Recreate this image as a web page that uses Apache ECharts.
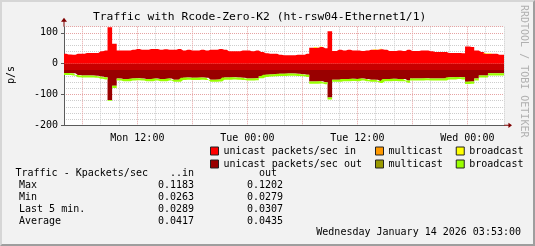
<!DOCTYPE html>
<html>
<head>
<meta charset="utf-8">
<script src="https://cdn.jsdelivr.net/npm/echarts@6/dist/echarts.min.js"></script>
<style>
html,body{margin:0;padding:0;background:#f2f2f2;}
#chart{position:absolute;left:0;top:0;width:535px;height:246px;}
#frame{position:absolute;left:0;top:0;width:535px;height:246px;box-sizing:border-box;pointer-events:none;
  border-top:2px solid #d6d6d6;border-left:2px solid #d6d6d6;border-right:2px solid #9e9e9e;border-bottom:2px solid #9e9e9e;}
</style>
</head>
<body>
<div id="chart"></div>
<div id="frame"></div>
<script>
// ---------------- data (packets/sec, 30-minute samples from Mon 04:00 to Wed 04:00) ----------------
const titleText = 'Traffic with Rcode-Zero-K2 (ht-rsw04-Ethernet1/1)';
const startTimeUTC = Date.UTC(2026, 0, 12, 4, 0);   // Mon 12 Jan 2026 04:00
const stepMinutes = 30;

const unicastIn = [
  32,30,29,32,32,35,35,35,40,43,118,65,43,43,43,45,48,45,45,48,48,45,47,45,
  45,48,43,45,43,43,45,43,45,45,48,45,40,40,40,43,43,40,43,38,34,32,32,29,
  27,27,27,29,29,32,52,52,54,50,105,41,45,43,45,43,43,41,43,45,45,47,45,41,
  41,43,41,45,41,41,43,43,40,38,38,38,35,35,35,34,56,54,43,38,32,32,32,29,29];
const multicastIn = [
  0,0,0,0,0,0,0,0,0,0,0,0,0,0,0,0,0,0,0,0,0,0,0,0,
  0,0,0,0,0,0,0,0,0,0,0,0,0,0,0,0,0,0,0,0,0,0,0,0,
  0,0,0,0,0,0,0,0,0,0,0,0,0,0,0,0,0,0,0,0,0,0,0,0,
  0,0,0,0,0,0,0,0,0,0,0,0,0,0,0,0,0,0,0,0,0,0,0,0,0];
const broadcastIn = [
  0,0,0,0,0,0,0,0,0,0,0,0,0,0,0,0,0,0,0,0,0,0,0,0,
  0,0,0,0,0,0,0,0,0,0,0,0,0,0,0,0,0,0,0,0,0,0,0,0,
  0,0,0,0,0,0,0,2,2,0,0,0,0,0,0,0,0,0,0,0,1.5,1.5,0,0,
  0,0,0,0,0,0,0,0,0,0,0,0,0,0,0,0,0,0,0,0,1.5,1.5,0,0,0];
const unicastOut = [
  30,30,31,37,38,38,38,39,42,44,118,72,48,50,50,48,47,48,50,50,48,50,50,48,
  52,52,46,45,46,46,45,46,52,52,51,45,45,44,45,46,48,48,47,40,36,35,34,33,
  33,32,32,33,34,36,58,58,57,60,110,52,52,50,50,49,50,48,50,52,52,56,50,50,
  49,50,50,55,48,48,48,47,48,48,48,48,44,44,43,44,59,58,48,38,38,31,31,31,31];
const multicastOut = [
  0,0,0,0,0,0,0,0,0,0,0,0,0,0,0,0,0,0,0,0,0,0,0,0,
  0,0,0,0,0,0,0,0,0,0,0,0,0,0,0,0,0,0,0,0,0,0,0,0,
  0,0,0,0,0,0,0,0,0,0,0,0,0,0,0,0,0,0,0,0,0,0,0,0,
  0,0,0,0,0,0,0,0,0,0,0,0,0,0,0,0,0,0,0,0,0,0,0,0,0];
const broadcastOut = [
  7,7,7,7,7,7,7,7,7,7,2,7,7,7,7,7,7,7,7,7,7,7,7,7,
  7,7,7,7,7,7,7,7,7,7,7,7,7,7,7,7,7,7,7,7,7,7,7,7,
  7,7,7,7,7,7,7,7,7,7,6,7,7,7,7,7,7,7,7,7,7,7,7,7,
  7,7,7,7,7,7,7,7,7,7,7,7,7,7,7,7,7,7,7,7,7,7,7,7,7];

const xTickLabels = ['Mon 12:00', 'Tue 00:00', 'Tue 12:00', 'Wed 00:00'];
const yTickLabels = [-200, -100, 0, 100];
const yMin = -200, yMax = 120;
const outBandLimit = -18;

const statLabels = ['Max', 'Min', 'Last 5 min.', 'Average'];
const statIn  = ['0.1183', '0.0263', '0.0289', '0.0417'];
const statOut = ['0.1202', '0.0279', '0.0307', '0.0435'];
const timestampText = 'Wednesday January 14 2026 03:53:00';

// ---------------- build ----------------
const DAYS = ['Sun','Mon','Tue','Wed','Thu','Fri','Sat'];
const pad2 = n => (n < 10 ? '0' : '') + n;
const categories = unicastIn.map((_, i) => {
  const d = new Date(startTimeUTC + i * stepMinutes * 60000);
  return DAYS[d.getUTCDay()] + ' ' + pad2(d.getUTCHours()) + ':' + pad2(d.getUTCMinutes());
});
const hourOf = c => parseInt(c.slice(4, 6), 10);
const minOf = c => parseInt(c.slice(7, 9), 10);
const isMajor = (i, c) => minOf(c) === 0 && hourOf(c) % 6 === 0;
const isMinor = (i, c) => minOf(c) === 0 && hourOf(c) % 2 === 0 && hourOf(c) % 6 !== 0;
const isLabel = (i, c) => xTickLabels.indexOf(c) >= 0;

const FONT = '"DejaVu Sans Mono", monospace';
const arrowPath = 'path://M3,0L6,4L3.5,4L3.5,9L2.5,9L2.5,4L0,4Z';
const AXIS_COLOR = '#5a5a5a';
const MGRID = '#e6a3a3';
const GRID = '#cdcdcd';

const C = {
  uin: '#ff0000', min: '#ff9900', bin: '#ffff00',
  uout: '#990000', uoutBand: '#c80000', mout: '#999900', bout: '#99ff00'
};

function areaSeries(name, data, color, stack) {
  return {
    name, type: 'line', data, stack, step: 'middle', symbol: 'none', showSymbol: false,
    lineStyle: { width: 0, opacity: 0 }, areaStyle: { opacity: 1, color }, itemStyle: { color },
    silent: true, z: 3, xAxisIndex: 0, yAxisIndex: 0, animation: false
  };
}
const neg = a => a.map(v => -v);
// zero samples are left undrawn so that zero-height areas leave no hairline
const skipZero = a => a.map(v => (v === 0 ? null : v));

const series = [
  areaSeries('unicast packets/sec in', unicastIn, C.uin, 'in'),
  areaSeries('multicast in', skipZero(multicastIn), C.min, 'in'),
  areaSeries('broadcast in', skipZero(broadcastIn), C.bin, 'in'),
  areaSeries('unicast packets/sec out', neg(unicastOut), C.uout, 'out'),
  areaSeries('multicast out', skipZero(neg(multicastOut)), C.mout, 'out'),
  areaSeries('broadcast out', neg(broadcastOut), C.bout, 'out')
];

const legendLabel = {
  'unicast packets/sec in': 'unicast packets/sec in'.padEnd(25),
  'multicast in': 'multicast'.padEnd(11),
  'broadcast in': 'broadcast',
  'unicast packets/sec out': 'unicast packets/sec out'.padEnd(25),
  'multicast out': 'multicast'.padEnd(11),
  'broadcast out': 'broadcast'
};
function legendItem(name, color) {
  return { name, icon: 'rect', itemStyle: { color, borderColor: '#222', borderWidth: 1 } };
}
function legendCfg(top, items) {
  return {
    left: 210, top, padding: 0, itemWidth: 8, itemHeight: 8, itemGap: 1, orient: 'horizontal',
    selectedMode: false, icon: 'rect', lineStyle: { width: 0 },
    textStyle: { fontFamily: FONT, fontSize: 10, color: '#000' },
    formatter: n => legendLabel[n], data: items
  };
}

function txt(t, x, y, align, extra) {
  return Object.assign({
    type: 'text', x, y, silent: true,
    style: { text: t, fill: '#000', font: '10px "DejaVu Sans Mono"', align, textAlign: align,
             verticalAlign: 'middle', textVerticalAlign: 'middle' }
  }, extra || {});
}
const graphics = [
  txt('p/s', 11.5, 75, 'center', { rotation: Math.PI / 2 }),
  txt('RRDTOOL / TOBI OETIKER', 524, 5, 'left', { rotation: -Math.PI / 2 }),
  txt('Traffic - Kpackets/sec', 15.5, 173.5, 'left'),
  txt('..in', 194, 173.5, 'right'),
  txt('out', 277, 173.5, 'right'),
  txt(timestampText, 521, 232.5, 'right')
];
graphics[1].style.fill = '#b0b0b0';
statLabels.forEach((lab, k) => {
  const y = 185.6 + 12 * k;
  graphics.push(txt(lab, 19, y, 'left'));
  graphics.push(txt(statIn[k], 194, y, 'right'));
  graphics.push(txt(statOut[k], 283, y, 'right'));
});

const xBase = { type: 'category', data: categories, boundaryGap: false, position: 'bottom' };
const option = {
  animation: false,
  backgroundColor: 'transparent',
  title: {
    text: titleText, left: 93, top: 12, padding: 0,
    textStyle: { fontFamily: FONT, fontSize: 11.3, fontWeight: 'normal', color: '#000' }
  },
  grid: { left: 64, right: 31, top: 26.7, bottom: 120.7, show: true, backgroundColor: '#ffffff', borderWidth: 0, containLabel: false },
  legend: [
    legendCfg(146, [legendItem('unicast packets/sec in', C.uin), legendItem('multicast in', C.min), legendItem('broadcast in', C.bin)]),
    legendCfg(159, [legendItem('unicast packets/sec out', C.uout), legendItem('multicast out', C.mout), legendItem('broadcast out', C.bout)])
  ],
  xAxis: [
    Object.assign({}, xBase, { z: 1,
      axisLine: { show: true, onZero: false, lineStyle: { color: AXIS_COLOR, width: 1 } },
      axisTick: { show: false },
      axisLabel: { interval: isLabel, color: '#000', fontFamily: FONT, fontSize: 10, margin: 8 },
      splitLine: { show: true, interval: isMajor, lineStyle: { color: MGRID, width: 1, type: [1, 1] } } }),
    Object.assign({}, xBase, { z: 0,
      axisLine: { show: false, onZero: false }, axisTick: { show: false }, axisLabel: { show: false },
      splitLine: { show: true, interval: isMinor, lineStyle: { color: GRID, width: 1, type: [1, 1] } } }),
    Object.assign({}, xBase, { z: 0,
      axisLine: { show: true, onZero: false, symbol: ['none', arrowPath], symbolSize: [6, 8], symbolOffset: [0, 4], lineStyle: { color: '#7f0000' } },
      axisTick: { show: false }, axisLabel: { show: false }, splitLine: { show: false } })
  ],
  yAxis: [
    { type: 'value', min: yMin, max: yMax, interval: 100, position: 'left', z: 1,
      axisLine: { show: true, onZero: false, lineStyle: { color: AXIS_COLOR } },
      axisTick: { show: true, length: 3, lineStyle: { color: AXIS_COLOR } },
      axisLabel: { color: '#000', fontFamily: FONT, fontSize: 10, margin: 6, showMaxLabel: false,
                   formatter: v => (yTickLabels.indexOf(v) >= 0 ? String(v) : '') },
      splitLine: { show: true, lineStyle: { color: MGRID, width: 1, type: [1, 1] } } },
    { type: 'value', min: yMin, max: yMax, interval: 20, position: 'left', z: 0,
      axisLine: { show: false, onZero: false }, axisTick: { show: false }, axisLabel: { show: false },
      splitLine: { show: true, lineStyle: { color: GRID, width: 1, type: [1, 1] } } },
    { type: 'value', min: yMin, max: yMax, interval: 100, position: 'left', z: 0,
      axisLine: { show: true, onZero: false, symbol: ['none', arrowPath], symbolSize: [6, 9], symbolOffset: [0, 4.5], lineStyle: { color: '#7f0000' } },
      axisTick: { show: false }, axisLabel: { show: false }, splitLine: { show: false } }
  ],
  series,
  graphic: graphics
};

const chart = echarts.init(document.getElementById('chart'), null, { renderer: 'canvas' });
chart.setOption(option);

// Two-tone fill of the outbound unicast area: band near zero, darker beyond outBandLimit
const yZeroPx = chart.convertToPixel({ yAxisIndex: 0 }, 0);
const yBandPx = chart.convertToPixel({ yAxisIndex: 0 }, outBandLimit);
chart.setOption({
  series: [{}, {}, {}, {
    areaStyle: { opacity: 1, color: {
      type: 'linear', global: true, x: 0, y: yZeroPx, x2: 0, y2: yBandPx + 0.5,
      colorStops: [{ offset: 0, color: C.uoutBand }, { offset: 0.98, color: C.uoutBand }, { offset: 1, color: C.uout }]
    } }
  }]
});
</script>
</body>
</html>
